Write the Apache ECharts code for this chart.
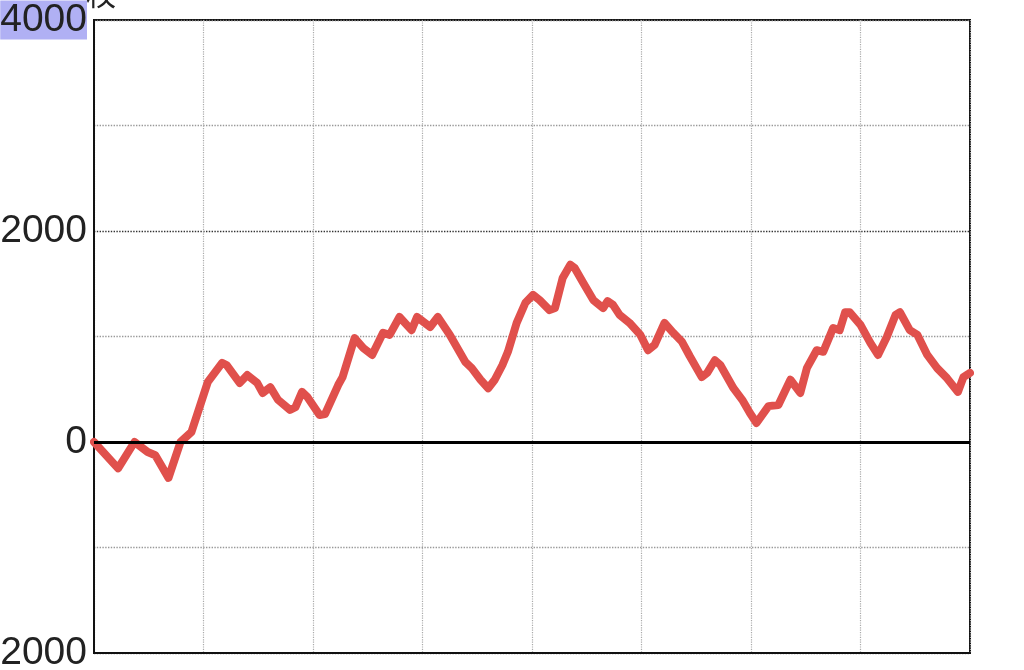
<!DOCTYPE html>
<html><head><meta charset="utf-8">
<script src="https://cdn.jsdelivr.net/npm/echarts@6/dist/echarts.min.js"></script>
<style>html,body{margin:0;padding:0;background:#fff}#c{width:1024px;height:670px}</style>
</head><body><div id="c"></div>
<script>
const yAxisName = '枚';
const yTickMin = -2000, yTickMax = 4000, yTickStep = 1000;
const highlightedTick = 4000;
const xMin = 0, xMax = 8;
const xs = [0,0.22,0.37,0.49,0.56,0.68,0.79,0.89,1.04,1.17,1.21,1.33,1.40,1.49,1.54,1.61,1.68,1.79,1.84,1.90,1.95,2.06,2.11,2.23,2.27,2.38,2.46,2.54,2.64,2.70,2.79,2.90,2.95,3.07,3.14,3.25,3.39,3.45,3.53,3.60,3.66,3.73,3.78,3.86,3.94,4.01,4.07,4.16,4.21,4.28,4.35,4.39,4.47,4.56,4.65,4.69,4.74,4.80,4.89,4.99,5.06,5.12,5.21,5.29,5.37,5.44,5.55,5.60,5.67,5.72,5.84,5.92,5.99,6.05,6.16,6.25,6.36,6.45,6.51,6.60,6.66,6.75,6.81,6.86,6.90,7.00,7.09,7.16,7.24,7.32,7.36,7.45,7.52,7.61,7.70,7.79,7.89,7.94,8.00];
const ys = [0,-250,0,-95,-125,-340,0,95,570,750,730,560,635,560,465,520,400,305,330,475,425,255,265,540,615,985,890,825,1035,1015,1185,1060,1185,1090,1185,1015,760,700,590,510,590,730,855,1130,1320,1395,1345,1250,1270,1555,1680,1650,1505,1345,1270,1335,1300,1205,1130,1015,870,920,1130,1035,950,815,615,655,775,730,510,400,275,180,340,350,590,465,700,870,855,1080,1060,1230,1230,1110,940,825,995,1205,1230,1060,1015,825,700,605,475,615,655];

const chart = echarts.init(document.getElementById('c'), null, {renderer:'canvas'});
const font = '"Liberation Sans", Arial, sans-serif';
chart.setOption({
  animation:false,
  backgroundColor:'#fff',
  grid:{left:94,right:54,top:20,bottom:17,containLabel:false,outerBoundsMode:'none',show:true,borderColor:'#111',borderWidth:2,backgroundColor:'transparent'},
  xAxis:{type:'value',min:xMin,max:xMax,interval:1,
    axisLine:{show:true,onZero:false,lineStyle:{color:'#111',width:2}},
    axisTick:{show:false},axisLabel:{show:false},
    splitLine:{show:true,lineStyle:{color:'#aaa',type:'dotted',width:1.2}}},
  yAxis:{type:'value',min:yTickMin,max:yTickMax,interval:yTickStep,
    name:yAxisName,nameLocation:'end',nameGap:11,nameMoveOverlap:false,
    nameTextStyle:{fontSize:30,color:'#222',align:'left',verticalAlign:'bottom',padding:[0,0,0,-8],fontFamily:'"Noto Sans CJK JP", sans-serif'},
    axisLine:{show:true,lineStyle:{color:'#111',width:2}},
    axisTick:{show:false},
    axisLabel:{margin:7,fontSize:39,color:'#222',fontFamily:font,
      formatter:function(v){ if(v===highlightedTick) return '{hl|'+v+'}'; return (v%2000===0)?String(v):''; },
      rich:{hl:{fontSize:39,color:'#222',fontFamily:font,backgroundColor:'#b0b0f4',padding:[0,0,0,0],lineHeight:37}}},
    splitLine:{show:true,lineStyle:{color:['#777','#999','#000','#999','#333','#999','#777'],type:'dotted',width:1.4}}},
  series:[{type:'line',data:xs.map((x,i)=>[x,ys[i]]),showSymbol:false,smooth:false,
    lineStyle:{color:'#e0504c',width:8,cap:'round',join:'round'},
    markLine:{silent:true,symbol:['none','none'],label:{show:false},
      lineStyle:{color:'#000',type:'solid',width:3},data:[{yAxis:0}]},
    z:3}]
});
</script></body></html>
